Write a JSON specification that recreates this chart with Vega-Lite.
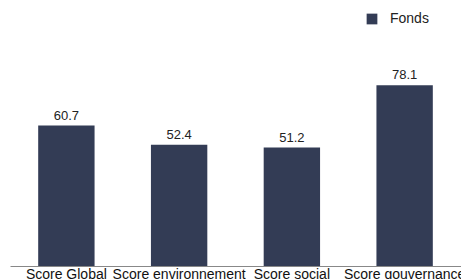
{
  "$schema": "https://vega.github.io/schema/vega-lite/v6.json",
  "width": 451,
  "height": 266,
  "padding": {"left": 10, "top": 0, "right": 0, "bottom": 13},
  "autosize": {"type": "none"},
  "config": {"view": {"stroke": null}, "font": "Liberation Sans"},
  "data": {"values": [
    {"cat": "Score Global", "serie": "Fonds", "val": 60.7},
    {"cat": "Score environnement", "serie": "Fonds", "val": 52.4},
    {"cat": "Score social", "serie": "Fonds", "val": 51.2},
    {"cat": "Score gouvernance", "serie": "Fonds", "val": 78.1}
  ]},
  "encoding": {
    "x": {"field": "cat", "type": "nominal", "sort": null,
      "scale": {"paddingInner": 0.5, "paddingOuter": 0.25},
      "axis": {"title": null, "labelAngle": 0, "ticks": false, "domainColor": "#888888", "labelFontSize": 14, "labelColor": "#111111", "labelPadding": 1, "labelFont": "Liberation Sans"}},
    "y": {"field": "val", "type": "quantitative", "scale": {"domain": [0, 115]}, "axis": null}
  },
  "layer": [
    {"mark": {"type": "bar", "color": "#333c55"},
     "encoding": {"color": {"field": "serie", "type": "nominal", "scale": {"range": ["#333c55"]},
       "legend": {"title": null, "orient": "none", "legendX": 355, "legendY": 12, "symbolType": "square", "symbolSize": 115, "labelFontSize": 14, "labelColor": "#222222", "labelOffset": 11, "labelFont": "Liberation Sans"}}}},
    {"mark": {"type": "text", "baseline": "alphabetic", "dy": -6, "fontSize": 13, "color": "#222222", "font": "Liberation Sans"},
     "encoding": {"text": {"field": "val", "type": "quantitative", "format": ".1f"}}}
  ]
}
